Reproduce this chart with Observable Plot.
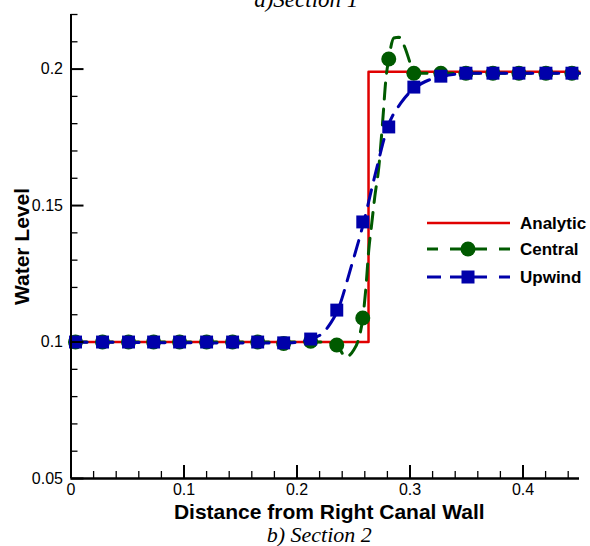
<!DOCTYPE html>
<html><head><meta charset="utf-8">
<script src="https://cdn.jsdelivr.net/npm/d3@7"></script>
<script src="https://cdn.jsdelivr.net/npm/@observablehq/plot@0.6"></script>
<style>
body{margin:0;background:#fff;}
#wrap{position:relative;width:590px;height:546px;overflow:hidden;}
#legend{position:absolute;left:420px;top:205px;}
</style></head><body><div id="wrap"></div>
<script>
// ---- data ----
const analyticX = [0, 0.2633, 0.2633, 0.45];
const analyticY = [0.1, 0.1, 0.199, 0.199];

const markerX = [0.004, 0.0279, 0.0509, 0.0731, 0.0961, 0.1200, 0.1430, 0.1652, 0.1882, 0.2121,
                 0.2352, 0.2582, 0.2812, 0.3034, 0.3273, 0.3495, 0.3734, 0.3964, 0.4203, 0.4433];
const centralMarkerY = [0.1, 0.1, 0.1, 0.1, 0.1, 0.1, 0.1, 0.1, 0.0995, 0.1003,
                        0.0989, 0.1088, 0.2037, 0.1985, 0.1985, 0.1985, 0.1985, 0.1985, 0.1985, 0.1985];
const upwindMarkerY = [0.1, 0.1, 0.1, 0.1, 0.1, 0.1, 0.1, 0.1, 0.0997, 0.1011,
                       0.1117, 0.1440, 0.1788, 0.1934, 0.1974, 0.1985, 0.1985, 0.1985, 0.1985, 0.1985];

const centralLineX = [0, 0.1, 0.2, 0.221, 0.2352, 0.2431, 0.2502, 0.2537, 0.2582, 0.2608, 0.2635, 0.2662,
                      0.2688, 0.2724, 0.2759, 0.2786, 0.2812, 0.2857, 0.2901, 0.2963, 0.2998, 0.3034, 0.3273, 0.45];
const centralLineY = [0.1, 0.1, 0.1, 0.1, 0.0989, 0.0945, 0.0971, 0.1, 0.1088, 0.119, 0.1337, 0.1436,
                      0.1531, 0.1641, 0.1813, 0.196, 0.2037, 0.2114, 0.2117, 0.207, 0.2026, 0.1985, 0.1985, 0.1985];

const upwindLineX = [0, 0.1882, 0.2033, 0.2121, 0.2228, 0.2299, 0.2361, 0.2476, 0.2591, 0.2697,
                     0.2803, 0.2918, 0.3052, 0.3167, 0.3291, 0.3539, 0.45];
const upwindLineY = [0.1, 0.0996, 0.1002, 0.1011, 0.1033, 0.107, 0.1117, 0.1271, 0.144, 0.1623,
                     0.1788, 0.1875, 0.1934, 0.196, 0.1974, 0.1985, 0.1985];

const xMajorTicks = [0, 0.1, 0.2, 0.3, 0.4];
const xTickLabels = ["0", "0.1", "0.2", "0.3", "0.4"];
const xMinorTicks = [0.02, 0.04, 0.06, 0.08, 0.12, 0.14, 0.16, 0.18, 0.22, 0.24, 0.26, 0.28,
                     0.32, 0.34, 0.36, 0.38, 0.42, 0.44];
const yMajorTicks = [0.05, 0.1, 0.15, 0.2];
const yTickLabels = ["0.05", "0.1", "0.15", "0.2"];
const yMinorTicks = [0.06, 0.07, 0.08, 0.09, 0.11, 0.12, 0.13, 0.14, 0.16, 0.17, 0.18, 0.19, 0.21, 0.22];

const seriesNames = ["Analytic", "Central", "Upwind"];
const seriesColors = ["#e00000", "#005a00", "#0000aa"];

const topTitle = "a)Section 1";
const bottomTitle = "b) Section 2";
const xLabel = "Distance from Right Canal Wall";
const yLabel = "Water Level";

// ---- tables ----
const zip = (xs, ys) => xs.map((x, i) => ({x, y: ys[i]}));
const analytic = zip(analyticX, analyticY);
const centralLine = zip(centralLineX, centralLineY);
const upwindLine = zip(upwindLineX, upwindLineY);
const centralMarkers = zip(markerX, centralMarkerY);
const upwindMarkers = zip(markerX, upwindMarkerY);

const W = 590, H = 546, mL = 70.5, mR = 11, mT = 14, mB = 68;
const fw = W - mL - mR, fh = H - mT - mB;
const SANS = "Liberation Sans, Arial, Helvetica, sans-serif";
const SERIF = "Liberation Serif, Times New Roman, serif";
const [RED, GREEN, BLUE] = seriesColors;

const chart = Plot.plot({
  width: W, height: H,
  marginLeft: mL, marginRight: mR, marginTop: mT, marginBottom: mB,
  style: {fontFamily: SANS, background: "white", color: "black"},
  x: {domain: [0, 0.45]},
  y: {domain: [0.05, 0.22]},
  marks: [
    Plot.line(analytic, {x: "x", y: "y", stroke: RED, strokeWidth: 2.5}),
    Plot.line(centralLine, {x: "x", y: "y", stroke: GREEN, strokeWidth: 3, strokeDasharray: "16,10", curve: "monotone-x"}),
    Plot.dot(centralMarkers, {x: "x", y: "y", r: 7.5, fill: GREEN, stroke: "none"}),
    Plot.line(upwindLine, {x: "x", y: "y", stroke: BLUE, strokeWidth: 3, strokeDasharray: "16,10", curve: "monotone-x"}),
    Plot.dot(upwindMarkers, {x: "x", y: "y", r: 7.3, symbol: "square", fill: BLUE, stroke: "none"}),
    Plot.tickX(xMinorTicks, {x: d => d, insetTop: fh - 7, stroke: "black", strokeWidth: 1.3}),
    Plot.tickX(xMajorTicks, {x: d => d, insetTop: fh - 13, stroke: "black", strokeWidth: 2}),
    Plot.tickY(yMinorTicks, {y: d => d, insetRight: fw - 7, stroke: "black", strokeWidth: 1.3}),
    Plot.tickY(yMajorTicks, {y: d => d, insetRight: fw - 13, stroke: "black", strokeWidth: 2}),
    Plot.ruleX([0], {stroke: "black", strokeWidth: 2}),
    Plot.ruleY([0.05], {stroke: "black", strokeWidth: 2.5}),
    Plot.axisX(xMajorTicks, {tickSize: 0, tickPadding: 5, fontSize: 16, label: null,
      tickFormat: d => xTickLabels[xMajorTicks.indexOf(d)]}),
    Plot.axisY(yMajorTicks, {tickSize: 0, tickPadding: 8, fontSize: 16, label: null,
      tickFormat: d => yTickLabels[yMajorTicks.indexOf(d)]}),
    Plot.text([topTitle], {text: d => d, frameAnchor: "top", dx: -19, dy: -8, lineAnchor: "bottom",
      fontFamily: SERIF, fontStyle: "italic", fontSize: 23, fill: "black"}),
    Plot.text([bottomTitle], {text: d => d, frameAnchor: "bottom", dx: -6, dy: 63, lineAnchor: "bottom",
      fontFamily: SERIF, fontStyle: "italic", fontSize: 22, fill: "black"}),
    Plot.text([xLabel], {text: d => d, frameAnchor: "bottom", dx: 4, dy: 40.5, lineAnchor: "bottom",
      fontFamily: SANS, fontWeight: "bold", fontSize: 21, fill: "black"}),
    Plot.text([yLabel], {text: d => d, frameAnchor: "left", dx: -48.5, rotate: -90, textAnchor: "middle",
      lineAnchor: "middle", fontFamily: SANS, fontWeight: "bold", fontSize: 21, fill: "black"})
  ]
});
const wrap = document.getElementById("wrap");
wrap.appendChild(chart);

// ---- legend ----
const legend = d3.select(wrap).append("svg").attr("id", "legend")
  .attr("width", 170).attr("height", 90);
const rowsY = [18, 44, 72];
const dashes = [null, "11,12,37,12,11", "14,9,37,12,11"];
seriesNames.forEach((name, i) => {
  const g = legend.append("g").attr("transform", `translate(0,${rowsY[i]})`);
  g.append("line").attr("x1", 7).attr("x2", 90).attr("y1", 0).attr("y2", 0)
    .attr("stroke", seriesColors[i]).attr("stroke-width", i === 0 ? 2.5 : 3)
    .attr("stroke-dasharray", dashes[i]);
  if (i === 1) g.append("circle").attr("cx", 48).attr("cy", 0).attr("r", 7.5).attr("fill", seriesColors[i]);
  if (i === 2) g.append("rect").attr("x", 48 - 6.5).attr("y", -6.5).attr("width", 13).attr("height", 13).attr("fill", seriesColors[i]);
  g.append("text").attr("x", 100).attr("y", 0).attr("dy", "0.35em")
    .attr("font-family", SANS).attr("font-weight", "bold").attr("font-size", 17)
    .attr("fill", "black").text(name);
});
</script>
</body></html>
